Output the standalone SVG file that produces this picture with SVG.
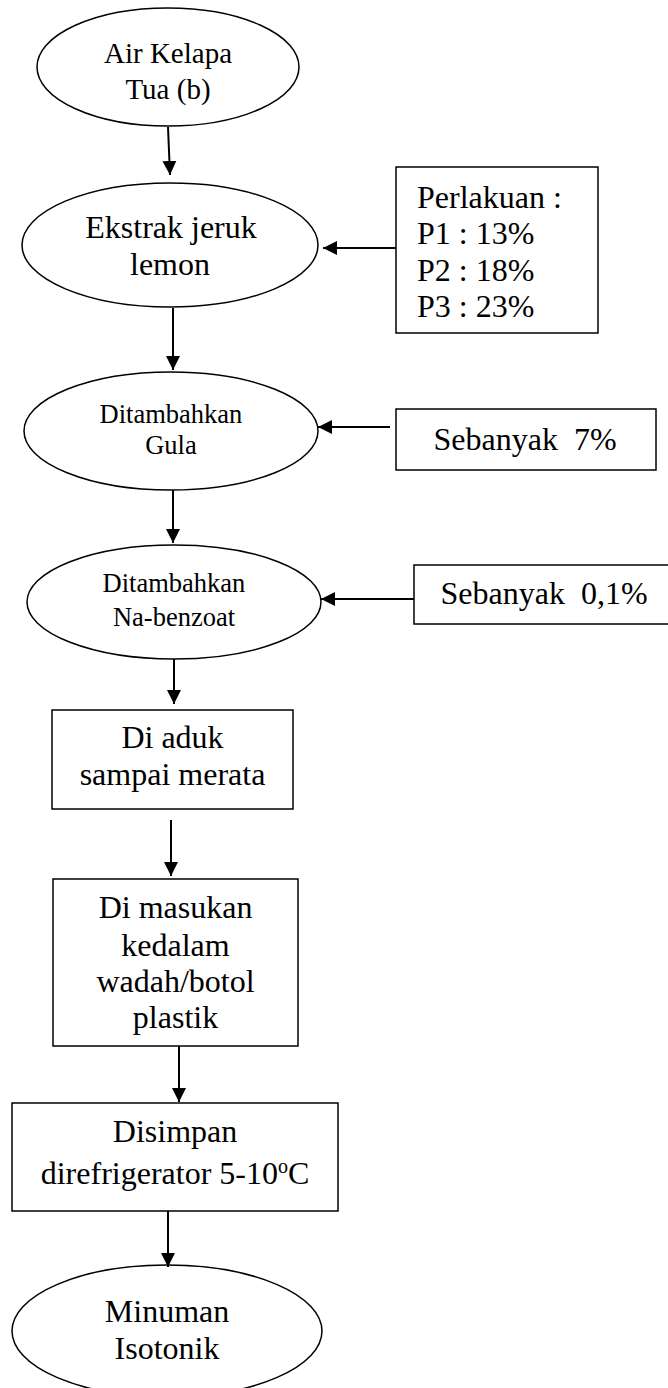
<svg xmlns="http://www.w3.org/2000/svg" width="668" height="1388" viewBox="0 0 668 1388">
<defs>
<style>
.shape{fill:#fff;stroke:#000;stroke-width:1.5}
.t{font-family:"Liberation Serif","Times New Roman",serif;fill:#000;text-anchor:middle;font-size:32px}
.s{font-size:26.5px}
.m{font-size:29px}
.l{text-anchor:start}
.c{stroke:#000;stroke-width:2;fill:none;marker-end:url(#ah)}
</style>
<marker id="ah" markerUnits="userSpaceOnUse" markerWidth="15" markerHeight="15" refX="14" refY="7" orient="auto" viewBox="0 0 15 14">
<path d="M0,0 L14,7 L0,14 z" fill="#000"/>
</marker>
</defs>
<rect width="668" height="1388" fill="#fff"/>
<g id="n1">
<ellipse class="shape" cx="168" cy="67" rx="131" ry="59"/>
<text class="t m" x="168" y="63">Air Kelapa</text>
<text class="t m" x="168" y="99">Tua (b)</text>
</g>
<g id="n2">
<ellipse class="shape" cx="170" cy="245" rx="148" ry="62"/>
<text class="t" x="171" y="238">Ekstrak jeruk</text>
<text class="t" x="170" y="275">lemon</text>
</g>
<g id="n3">
<ellipse class="shape" cx="171" cy="431" rx="147" ry="59"/>
<text class="t s" x="171" y="423">Ditambahkan</text>
<text class="t s" x="171" y="454">Gula</text>
</g>
<g id="n4">
<ellipse class="shape" cx="174" cy="602" rx="147" ry="57"/>
<text class="t s" x="174" y="592">Ditambahkan</text>
<text class="t s" x="174" y="626">Na-benzoat</text>
</g>
<g id="n5">
<rect class="shape" x="52" y="710" width="241" height="99"/>
<text class="t" x="172.5" y="748">Di aduk</text>
<text class="t" x="172.5" y="785">sampai merata</text>
</g>
<g id="n6">
<rect class="shape" x="53" y="879" width="245" height="167"/>
<text class="t" x="175.5" y="918">Di masukan</text>
<text class="t" x="175.5" y="956">kedalam</text>
<text class="t" x="175.5" y="992">wadah/botol</text>
<text class="t" x="175.5" y="1028">plastik</text>
</g>
<g id="n7">
<rect class="shape" x="12" y="1103" width="326" height="108"/>
<text class="t" x="175" y="1142">Disimpan</text>
<text class="t" x="175" y="1184">direfrigerator 5-10<tspan font-size="20" dy="-11">o</tspan><tspan dy="11">C</tspan></text>
</g>
<g id="n8">
<ellipse class="shape" cx="167" cy="1331" rx="155" ry="66"/>
<text class="t" x="167" y="1322">Minuman</text>
<text class="t" x="167" y="1359">Isotonik</text>
</g>
<g id="p1">
<rect class="shape" x="396" y="167" width="202" height="166"/>
<text class="t l" x="417" y="208">Perlakuan :</text>
<text class="t l" x="417" y="244">P1 : 13%</text>
<text class="t l" x="417" y="281">P2 : 18%</text>
<text class="t l" x="417" y="317">P3 : 23%</text>
</g>
<g id="p2">
<rect class="shape" x="396" y="409" width="260" height="61"/>
<text class="t" x="525" y="450" xml:space="preserve">Sebanyak  7%</text>
</g>
<g id="p3">
<rect class="shape" x="414" y="565" width="260" height="59"/>
<text class="t" x="544" y="604" xml:space="preserve">Sebanyak  0,1%</text>
</g>
<g id="connectors">
<line class="c" x1="168" y1="127" x2="170" y2="175"/>
<line class="c" x1="173" y1="308" x2="173" y2="370"/>
<line class="c" x1="173" y1="490" x2="173" y2="543"/>
<line class="c" x1="174" y1="659" x2="174" y2="704"/>
<line class="c" x1="171" y1="820" x2="171" y2="876"/>
<line class="c" x1="179" y1="1046" x2="179" y2="1102"/>
<line class="c" x1="168" y1="1211" x2="168" y2="1267"/>
<line class="c" x1="396" y1="248" x2="323" y2="248"/>
<line class="c" x1="390" y1="427" x2="318" y2="427"/>
<line class="c" x1="414" y1="599" x2="321" y2="599"/>
</g>
</svg>
